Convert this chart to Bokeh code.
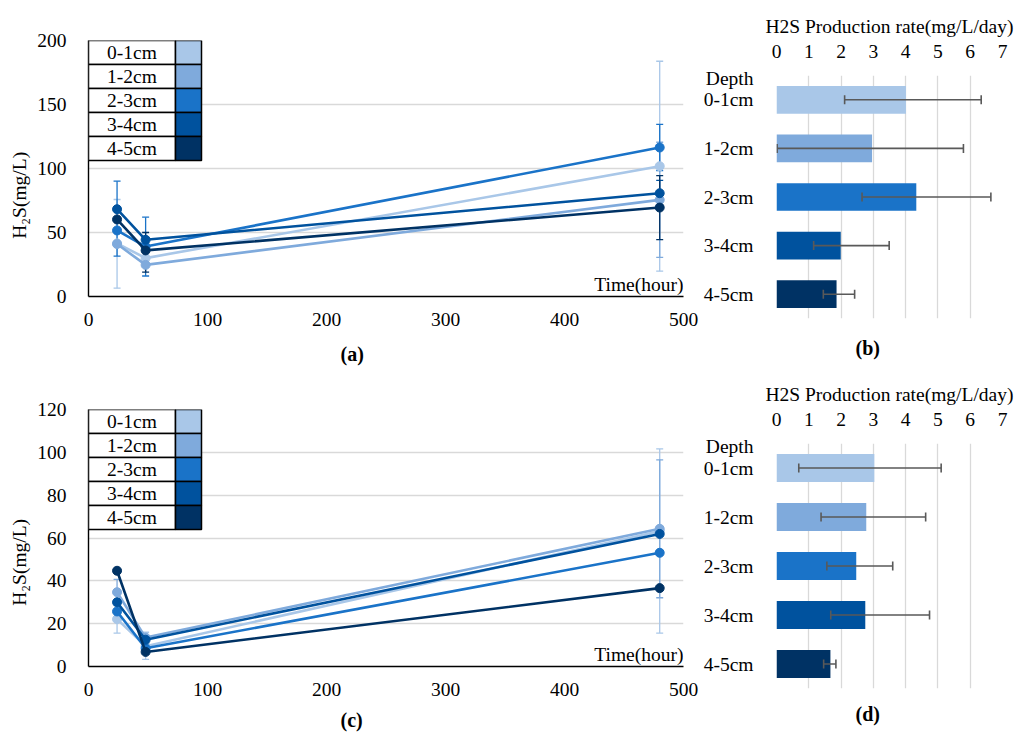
import math
from bokeh.plotting import figure
from bokeh.layouts import row, column
from bokeh.models import (ColumnDataSource, Whisker, TeeHead, Label, BoxAnnotation,
                          FixedTicker, Range1d, Title)
from bokeh.embed import file_html
from bokeh.resources import INLINE

# ---------------- data ----------------
depths = ["0-1cm", "1-2cm", "2-3cm", "3-4cm", "4-5cm"]
colors = ["#a9c7e8", "#7faadc", "#1a73c8", "#00529e", "#003264"]
times = [24, 48, 480]

# panel (a): H2S (mg/L) per depth at each time
a_values = [[41.5, 30.0, 101.8],
            [41.0, 24.7, 75.5],
            [51.6, 39.0, 116.4],
            [68.2, 44.3, 80.7],
            [60.2, 36.0, 69.5]]
a_err_up = [[34.3, 0, 82.0], [0, 0, 45.0], [38.5, 23.0, 18.0], [0, 0, 10.0], [0, 14.0, 25.0]]
a_err_dn = [[35.0, 0, 82.0], [0, 0, 45.0], [20.0, 23.0, 18.0], [0, 0, 10.0], [0, 17.0, 25.0]]

# panel (c)
c_values = [[22.1, 9.5, 63.2],
            [34.7, 13.5, 64.3],
            [25.7, 8.5, 53.1],
            [30.0, 12.5, 61.9],
            [44.7, 6.8, 36.6]]
c_err_up = [[6.5, 6.5, 38.4], [6.0, 0, 32.2], [0, 0, 0], [0, 0, 0], [0, 0, 0]]
c_err_dn = [[6.5, 6.2, 47.6], [6.0, 0, 32.2], [0, 0, 0], [0, 0, 0], [0, 0, 0]]

# panel (b): production rate (mg/L/day)
b_rates = [4.01, 2.96, 4.33, 1.99, 1.86]
b_err_minus = [1.90, 2.94, 1.68, 0.84, 0.41]
b_err_plus = [2.33, 2.83, 2.31, 1.50, 0.56]

# panel (d)
d_rates = [3.03, 2.78, 2.47, 2.75, 1.67]
d_err_minus = [2.34, 1.40, 0.91, 1.07, 0.21]
d_err_plus = [2.07, 1.84, 1.13, 1.99, 0.17]

x_ticks = [0, 100, 200, 300, 400, 500]
rate_ticks = [0, 1, 2, 3, 4, 5, 6, 7]

SERIF = "Liberation Serif"
FS = "19.5px"
NB = "\u00a0"


def style_ticks(ax, size):
    ax.major_label_text_font = SERIF
    ax.major_label_text_font_size = size
    ax.major_label_text_color = "black"


def line_panel(values, err_up, err_dn, ymax, ystep, height, top, bottom, ypad, cap, cap_standoff):
    p = figure(width=700, height=height, x_range=Range1d(0, 500), y_range=Range1d(0, ymax),
               output_backend="svg", toolbar_location=None, title=None,
               min_border_left=88, min_border_right=17,
               min_border_top=top, min_border_bottom=bottom)
    p.outline_line_color = None
    p.xgrid.visible = False
    yt = list(range(0, ymax + 1, ystep))
    p.ygrid.ticker = FixedTicker(ticks=yt)
    p.ygrid.grid_line_color = "#d9d9d9"
    p.ygrid.grid_line_width = 1.3
    p.yaxis.ticker = FixedTicker(ticks=yt)
    p.xaxis.ticker = FixedTicker(ticks=x_ticks)
    for ax in (p.xaxis[0], p.yaxis[0]):
        ax.axis_line_color = "black"
        ax.axis_line_width = 1.4
        ax.major_tick_line_color = None
        ax.minor_tick_line_color = None
        style_ticks(ax, FS)
    p.yaxis.major_label_standoff = 16
    p.xaxis.major_label_standoff = 10
    p.yaxis.axis_label = "H\u2082S(mg/L)" + NB * ypad
    p.yaxis.axis_label_text_font = SERIF
    p.yaxis.axis_label_text_font_size = FS
    p.yaxis.axis_label_text_font_style = "normal"
    p.yaxis.axis_label_text_color = "black"
    p.yaxis.axis_label_standoff = 4

    for i in range(len(depths)):
        t_e, up, lo = [], [], []
        for j, t in enumerate(times):
            if err_up[i][j] > 0 or err_dn[i][j] > 0:
                t_e.append(t)
                up.append(values[i][j] + err_up[i][j])
                lo.append(values[i][j] - err_dn[i][j])
        if t_e:
            src = ColumnDataSource(dict(t=t_e, up=up, lo=lo))
            w = Whisker(base="t", upper="up", lower="lo", source=src, dimension="height",
                        line_color=colors[i], line_width=1.3,
                        upper_head=TeeHead(size=7, line_color=colors[i], line_width=1.3),
                        lower_head=TeeHead(size=7, line_color=colors[i], line_width=1.3))
            p.add_layout(w)
    for i in range(len(depths)):
        p.line(times, values[i], line_color=colors[i], line_width=2.6)
        p.scatter(times, values[i], size=9, fill_color=colors[i], line_color=colors[i])

    # x axis title inside plot, bottom right
    p.add_layout(Label(x=500, y=0, text="Time(hour)", text_align="right", text_baseline="bottom",
                       y_offset=2, text_font=SERIF, text_font_size=FS, text_color="black"))
    # table-like legend (canvas units, y downward)
    for i, d in enumerate(depths):
        rt = top + 24 * i
        rb = rt + 24
        p.add_layout(BoxAnnotation(left=88, right=175, top=rt, bottom=rb,
                                   left_units="canvas", right_units="canvas",
                                   top_units="canvas", bottom_units="canvas",
                                   fill_color="white", fill_alpha=1.0,
                                   line_color="black", line_width=1.5, line_alpha=1.0))
        p.add_layout(BoxAnnotation(left=175, right=201, top=rt, bottom=rb,
                                   left_units="canvas", right_units="canvas",
                                   top_units="canvas", bottom_units="canvas",
                                   fill_color=colors[i], fill_alpha=1.0,
                                   line_color="black", line_width=1.5, line_alpha=1.0))
        p.add_layout(Label(x=131.5, y=(rt + rb) / 2, x_units="canvas", y_units="canvas",
                           text=d, text_align="center", text_baseline="middle",
                           text_font=SERIF, text_font_size=FS, text_color="black"))
    p.add_layout(Title(text=cap, align="left", offset=252, standoff=cap_standoff,
                       text_font=SERIF, text_font_size="20px", text_font_style="bold",
                       text_color="black"), "below")
    return p


def bar_panel(rates, e_minus, e_plus, height, top, bottom, depth_pos, cap, cap_standoff):
    n = len(depths)
    ypos = [n - 0.5 - i for i in range(n)]
    p = figure(width=314, height=height, y_range=Range1d(0, n), x_range=Range1d(0, 7),
               x_axis_location="above", output_backend="svg", toolbar_location=None,
               title=None,
               min_border_left=76, min_border_right=12,
               min_border_top=top, min_border_bottom=bottom)
    p.outline_line_color = None
    p.ygrid.visible = False
    p.xgrid.ticker = FixedTicker(ticks=rate_ticks)
    p.xgrid.grid_line_color = "#d9d9d9"
    p.xgrid.grid_line_width = 1.3
    p.xaxis.ticker = FixedTicker(ticks=rate_ticks)
    p.yaxis.ticker = FixedTicker(ticks=ypos + [depth_pos])
    overrides = {float(y): d for y, d in zip(ypos, depths)}
    overrides[float(depth_pos)] = "Depth"
    p.yaxis.major_label_overrides = overrides
    for ax in (p.xaxis[0], p.yaxis[0]):
        ax.axis_line_color = None
        ax.major_tick_line_color = None
        ax.minor_tick_line_color = None
        style_ticks(ax, FS)
    p.xaxis.axis_label = "H2S Production rate(mg/L/day)"
    p.xaxis.axis_label_text_font = SERIF
    p.xaxis.axis_label_text_font_size = FS
    p.xaxis.axis_label_text_font_style = "normal"
    p.xaxis.axis_label_text_color = "black"
    p.xaxis.axis_label_standoff = 5
    p.xaxis.major_label_standoff = 12
    p.yaxis.major_label_standoff = 17

    src = ColumnDataSource(dict(y=ypos, r=rates, c=colors,
                                lo=[r - m for r, m in zip(rates, e_minus)],
                                hi=[r + q for r, q in zip(rates, e_plus)]))
    p.hbar(y="y", right="r", left=0, height=0.57, fill_color="c", line_color=None, source=src)
    w = Whisker(base="y", upper="hi", lower="lo", source=src, dimension="width",
                line_color="#595959", line_width=1.6, level="overlay",
                upper_head=TeeHead(size=9, line_color="#595959", line_width=1.6),
                lower_head=TeeHead(size=9, line_color="#595959", line_width=1.6))
    p.add_layout(w)
    p.add_layout(Title(text=cap, align="left", offset=79, standoff=cap_standoff,
                       text_font=SERIF, text_font_size="20px", text_font_style="bold",
                       text_color="black"), "below")
    return p


pa = line_panel(a_values, a_err_up, a_err_dn, 200, 50, 376, 40, 80, 11, "(a)", 24)
pb = bar_panel(b_rates, b_err_minus, b_err_plus, 376, 75, 58, 4.93, "(b)", 32)
pc = line_panel(c_values, c_err_up, c_err_dn, 120, 20, 362, 33, 72, 10, "(c)", 16)
pd = bar_panel(d_rates, d_err_minus, d_err_plus, 362, 67, 50, 4.93, "(d)", 25)

layout = row(column(pa, pc), column(pb, pd))
open("out.html", "w").write(file_html(layout, INLINE))
